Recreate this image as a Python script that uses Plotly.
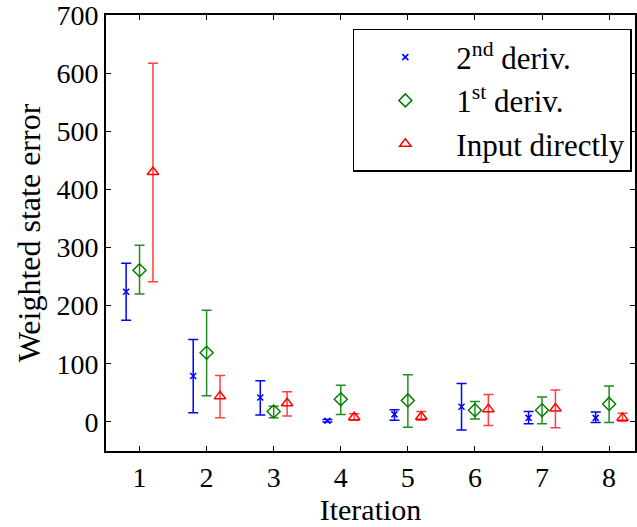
import plotly.graph_objects as go

iterations = [1, 2, 3, 4, 5, 6, 7, 8]

# 2nd deriv.
d2_mean = [224, 79, 42, 2, 13, 26, 7, 7]
d2_up = [273, 142, 71, 4, 21, 66, 18, 17]
d2_lo = [175, 16, 12, 0, 3, -14, -3, -1]

# 1st deriv.
d1_mean = [261, 119, 18, 39, 37, 20, 20, 31]
d1_up = [304, 192, 27, 63, 81, 35, 43, 62]
d1_lo = [220, 45, 7, 13, -9, 5, -3, -1]

# Input directly
in_mean = [430, 44, 32, 8, 9, 22, 23, 7]
in_up = [617, 80, 52, 14, 18, 47, 55, 15]
in_lo = [241, 7, 10, 3, 3, -6, -10, 1]

y_ticks = [0, 100, 200, 300, 400, 500, 600, 700]

offsets = [-0.2, 0.0, 0.2]
names = ["2<sup>nd</sup> deriv.", "1<sup>st</sup> deriv.", "Input directly"]
colors = ["#0000ff", "#008000", "#ff0000"]
bar_colors = ["#0000ff", "#228b22", "#ff4040"]
symbols = ["x-thin-open", "diamond-open", "triangle-up-open"]
sizes = [6, 10, 10]
series = [(d2_mean, d2_up, d2_lo), (d1_mean, d1_up, d1_lo), (in_mean, in_up, in_lo)]

fig = go.Figure()
for (m, up, lo), off, name, c, bc, sym, sz in zip(series, offsets, names, colors, bar_colors, symbols, sizes):
    fig.add_trace(go.Scatter(
        x=[i + off for i in iterations], y=m, mode="markers", name=name,
        marker=dict(symbol=sym, size=sz, color=c, line=dict(color=c, width=1.5)),
        error_y=dict(type="data", symmetric=False,
                     array=[u - v for u, v in zip(up, m)],
                     arrayminus=[v - l for v, l in zip(m, lo)],
                     color=bc, thickness=1.5, width=5),
    ))

font = "Liberation Serif"
fig.update_layout(
    width=637, height=527,
    margin=dict(l=106, r=0, t=13, b=76),
    plot_bgcolor="white", paper_bgcolor="white",
    font=dict(family=font, size=28, color="black"),
    showlegend=True,
    legend=dict(x=0.994, y=0.968, xanchor="right", yanchor="top",
                bordercolor="black", borderwidth=1.5, bgcolor="white",
                font=dict(family=font, size=31), itemwidth=92,
                tracegroupgap=0),
    xaxis=dict(range=[0.5, 8.386], tickvals=iterations, ticktext=[str(i) for i in iterations],
               showgrid=False, zeroline=False, showline=True, linecolor="black", linewidth=2,
               mirror="ticks", ticks="inside", ticklen=5, tickwidth=1, tickcolor="black",
               ticklabelstandoff=0, tickfont=dict(size=28),
               title=dict(text="Iteration", font=dict(size=30), standoff=3)),
    yaxis=dict(range=[-50, 700], tickvals=y_ticks,
               showgrid=False, zeroline=False, showline=True, linecolor="black", linewidth=2,
               mirror="ticks", ticks="inside", ticklen=5, tickwidth=1, tickcolor="black",
               ticklabeloverflow="allow", tickfont=dict(size=28),
               title=dict(text="Weighted state error", font=dict(size=32), standoff=6)),
)

fig.write_html("out.html")
